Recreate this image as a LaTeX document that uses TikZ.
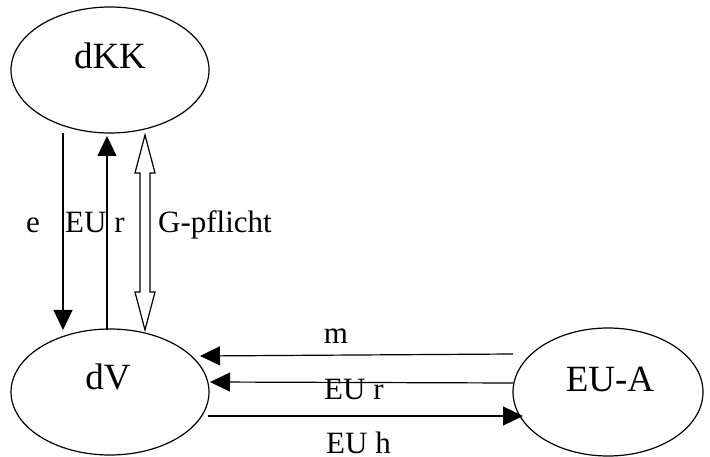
\documentclass[tikz,border=0pt]{standalone}
\usepackage{fontspec}
\setmainfont{Liberation Serif}
\usetikzlibrary{arrows.meta,calc,shapes.geometric}
\begin{document}
\begin{tikzpicture}[x=1pt,y=-1pt,
  state/.style={draw, ellipse, line width=1.2pt, minimum width=198pt, minimum height=126pt, inner sep=0pt},
  big/.style={font=\fontsize{37}{37}\selectfont, anchor=base, inner sep=0pt},
  lbl/.style={font=\fontsize{31}{31}\selectfont, anchor=base west, inner sep=0pt},
  flow/.style={-{Triangle[length=20pt,width=19pt]}, line width=1.2pt},
  hollow/.style={draw, line width=1.2pt, fill=white, line join=miter}]
\useasboundingbox (0,0) rectangle (710,457);

% the three parties
\node[state] (dKK) at (110,70) {};
\node[big] (tKK) at (110,69) {dKK};
\node[state] (dV) at (110,392) {};
\node[big] (tV) at (108,389) {dV};
\node[state, minimum width=190pt, minimum height=128pt] (EUA) at (608,392) {};
\node[big] (tA) at (610,391) {EU-A};

% end points of the connectors
\coordinate (a1) at (63,133);  \coordinate (a2) at (63,330);
\coordinate (b1) at (107,330); \coordinate (b2) at (107,136);
\coordinate (g1) at (145,135); \coordinate (g2) at (145,330);
\coordinate (m1) at (513,354); \coordinate (m2) at (200,356);
\coordinate (r1) at (513,383); \coordinate (r2) at (210,382);
\coordinate (h1) at (208,416); \coordinate (h2) at (523,416);

% vertical flows between dKK and dV
\draw[flow] (a1) -- (a2);
\draw[flow] (b1) -- (b2);
% hollow double-headed arrow
\path[hollow] (g1) -- ++(10,38) -- ++(-5,0) -- ($(g2)+(5,-38)$) -- ++(5,0)
  -- (g2) -- ++(-10,-38) -- ++(5,0) -- ($(g1)+(-5,38)$) -- ++(-5,0) -- cycle;

% horizontal flows between dV and EU-A
\draw[flow] (m1) -- (m2);
\draw[flow] (r1) -- (r2);
\draw[flow] (h1) -- (h2);

% labels
\node[lbl, anchor=base] (le) at (33,233) {e};
\node[lbl] (leur) at (65,233) {EU r};
\node[lbl] (lg) at (158,233) {G-pflicht};
\node[lbl, anchor=base] (lm) at (336,344) {m};
\node[lbl] (lr) at (324,399) {EU r};
\node[lbl, text depth=0pt] (lh) at (326,453) {EU h};
\end{tikzpicture}
\end{document}
